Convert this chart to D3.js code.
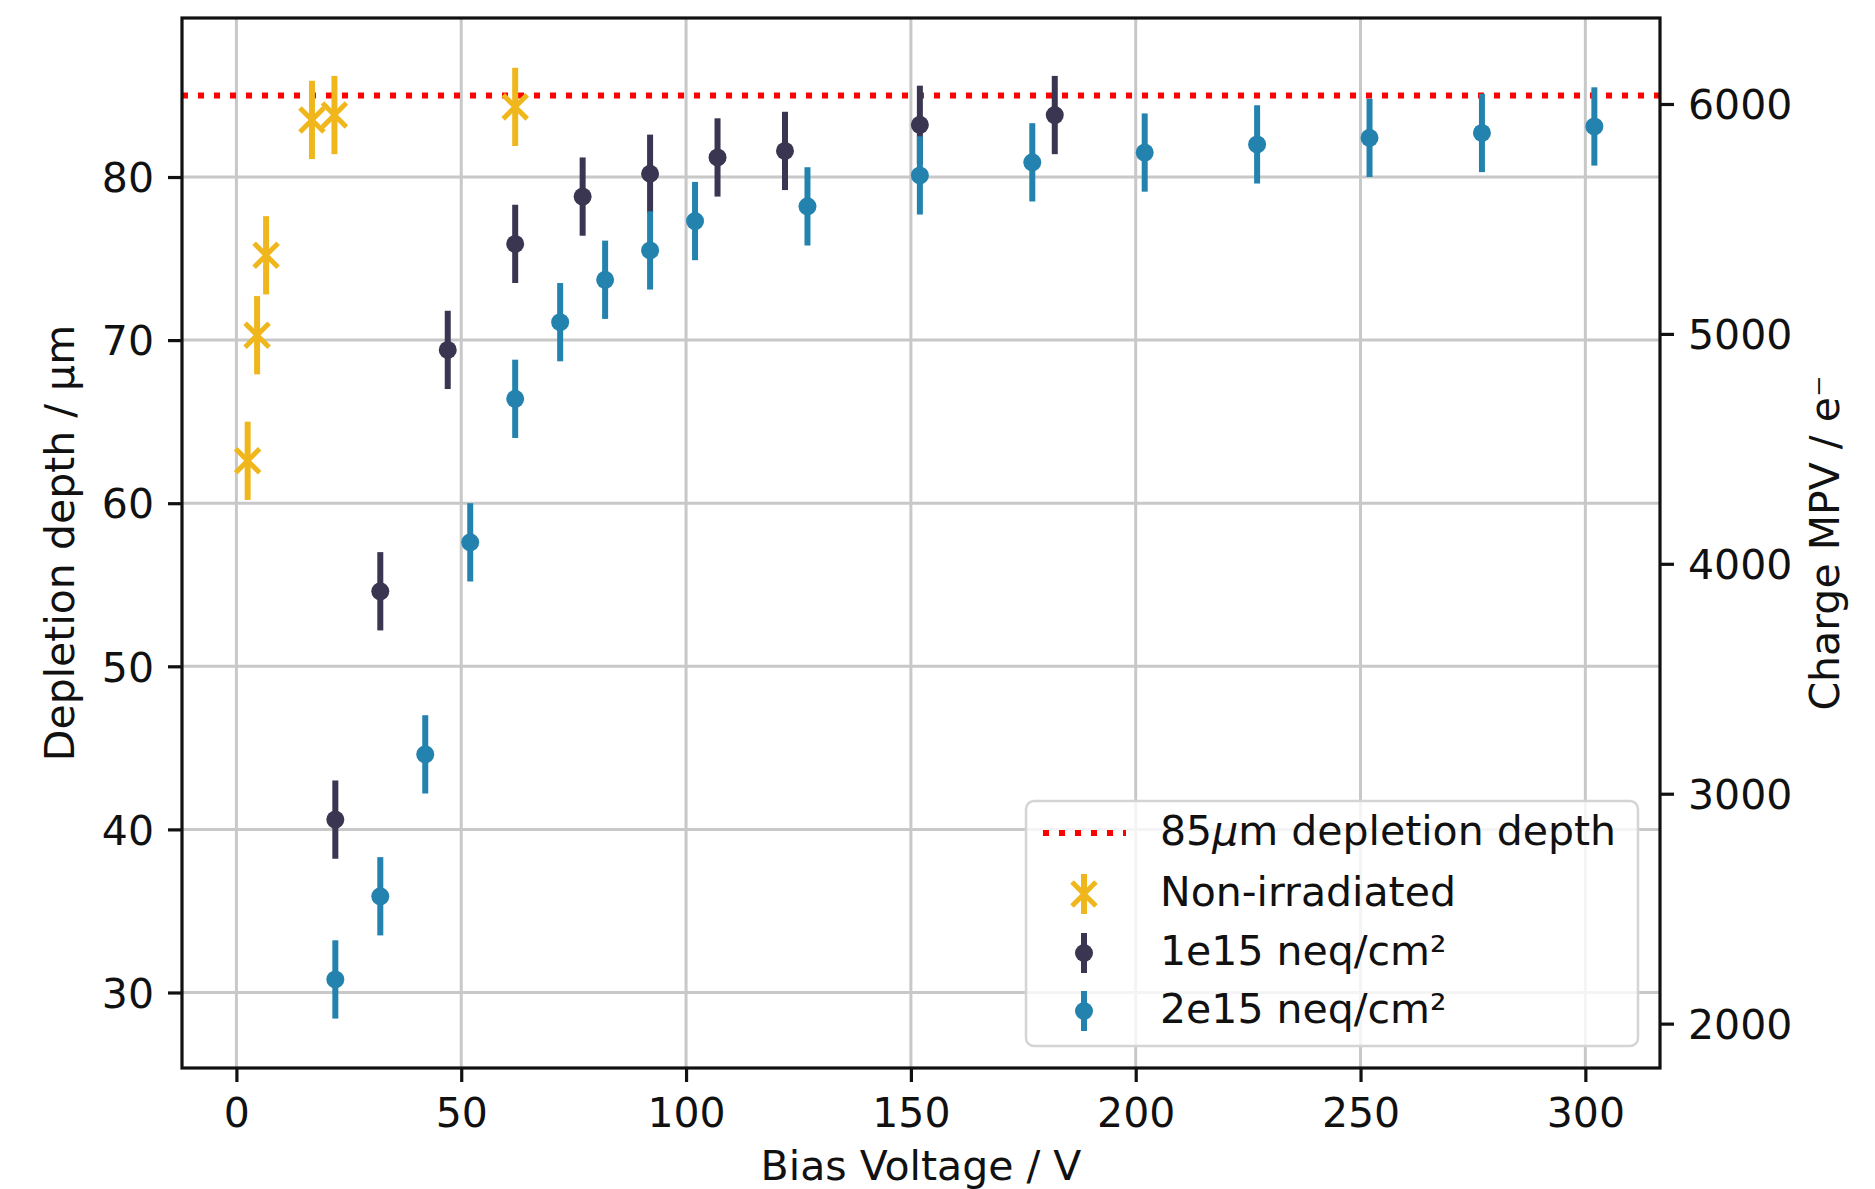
<!DOCTYPE html>
<html><head><meta charset="utf-8">
<script src="https://cdn.jsdelivr.net/npm/d3@7"></script>
<style>
body{margin:0;background:#fff}
svg{display:block}
text{font-family:"DejaVu Sans",sans-serif;fill:#111}
</style>
</head><body>
<svg id="chart" width="1875" height="1189"></svg>
<script>
// ---------- data ----------
const nonIrrVoltage = [2.5, 4.6, 6.6, 16.8, 21.8, 62];
const nonIrrDepth   = [62.6, 70.3, 75.2, 83.5, 83.8, 84.3];
const nonIrrErr     = [2.4, 2.4, 2.4, 2.4, 2.4, 2.4];

const v1e15 = [22, 32, 47, 62, 77, 92, 107, 122, 152, 182];
const d1e15 = [40.6, 54.6, 69.4, 75.9, 78.8, 80.2, 81.2, 81.6, 83.2, 83.8];
const e1e15 = [2.4, 2.4, 2.4, 2.4, 2.4, 2.4, 2.4, 2.4, 2.4, 2.4];

const v2e15 = [22, 32, 42, 52, 62, 72, 82, 92, 102, 127, 152, 177, 202, 227, 252, 277, 302];
const d2e15 = [30.8, 35.9, 44.6, 57.6, 66.4, 71.1, 73.7, 75.5, 77.3, 78.2, 80.1, 80.9, 81.5, 82.0, 82.4, 82.7, 83.1];
const e2e15 = [2.4, 2.4, 2.4, 2.4, 2.4, 2.4, 2.4, 2.4, 2.4, 2.4, 2.4, 2.4, 2.4, 2.4, 2.4, 2.4, 2.4];

const refDepth = 85;

const xTicks  = [0, 50, 100, 150, 200, 250, 300];
const yTicks  = [30, 40, 50, 60, 70, 80];
const yRTicks = [2000, 3000, 4000, 5000, 6000];

const legendLabels = ["85μm depletion depth", "Non-irradiated", "1e15 neq/cm²", "2e15 neq/cm²"];
const xLabel = "Bias Voltage / V";
const yLabel = "Depletion depth / µm";
const yRLabel = "Charge MPV / e⁻";

// ---------- styles ----------
const colYellow = "#efb71c", colDark = "#3a3551", colTeal = "#2383ae";
const FS = 41;

const svg = d3.select("#chart");
const L = 182, R = 1660, T = 18, B = 1068;

const x  = d3.scaleLinear().domain([-12.1, 316.6]).range([L, R]);
const y  = d3.scaleLinear().domain([25.37, 89.75]).range([B, T]);
const yR = d3.scaleLinear().domain([1807, 6374]).range([B, T]);

// grid
const grid = svg.append("g");
grid.selectAll(".gx").data(xTicks).enter().append("line")
  .attr("x1", d => x(d)).attr("x2", d => x(d)).attr("y1", T).attr("y2", B)
  .attr("stroke", "#c8c8c8").attr("stroke-width", 3);
grid.selectAll(".gy").data(yTicks).enter().append("line")
  .attr("x1", L).attr("x2", R).attr("y1", d => y(d)).attr("y2", d => y(d))
  .attr("stroke", "#c8c8c8").attr("stroke-width", 3);

// reference line
svg.append("line")
  .attr("x1", L).attr("x2", R).attr("y1", y(refDepth)).attr("y2", y(refDepth))
  .attr("stroke", "red").attr("stroke-width", 6).attr("stroke-dasharray", "6,10");

// series
function errSeries(vs, ds, es, color, marker) {
  const g = svg.append("g");
  const data = vs.map((v, i) => ({v, d: ds[i], e: es[i]}));
  g.selectAll("line.eb").data(data).enter().append("line")
    .attr("x1", p => x(p.v)).attr("x2", p => x(p.v))
    .attr("y1", p => y(p.d - p.e)).attr("y2", p => y(p.d + p.e))
    .attr("stroke", color).attr("stroke-width", 6);
  if (marker === "x") {
    g.selectAll("path.mk").data(data).enter().append("path")
      .attr("transform", p => `translate(${x(p.v)},${y(p.d)})`)
      .attr("d", "M-12,-12L12,12M-12,12L12,-12")
      .attr("stroke", color).attr("stroke-width", 5).attr("fill", "none");
  } else {
    g.selectAll("circle.mk").data(data).enter().append("circle")
      .attr("cx", p => x(p.v)).attr("cy", p => y(p.d)).attr("r", 9)
      .attr("fill", color);
  }
}
errSeries(nonIrrVoltage, nonIrrDepth, nonIrrErr, colYellow, "x");
errSeries(v1e15, d1e15, e1e15, colDark, "o");
errSeries(v2e15, d2e15, e2e15, colTeal, "o");

// axes
function styleAxis(g) {
  g.select(".domain").remove();
  g.selectAll(".tick line").attr("stroke", "#111").attr("stroke-width", 3.2);
  g.selectAll(".tick text").attr("font-size", FS).attr("font-family", "DejaVu Sans").attr("fill", "#111");
}
const gx = svg.append("g").attr("transform", `translate(0,${B})`)
  .call(d3.axisBottom(x).tickValues(xTicks).tickSize(14).tickPadding(14).tickFormat(d3.format("d")));
styleAxis(gx);
gx.selectAll(".tick text").attr("dy", "0.75em");

const gy = svg.append("g").attr("transform", `translate(${L},0)`)
  .call(d3.axisLeft(y).tickValues(yTicks).tickSize(14).tickPadding(14).tickFormat(d3.format("d")));
styleAxis(gy);
gy.selectAll(".tick text").attr("dy", "0.36em");

const gyR = svg.append("g").attr("transform", `translate(${R},0)`)
  .call(d3.axisRight(yR).tickValues(yRTicks).tickSize(14).tickPadding(14).tickFormat(d3.format("d")));
styleAxis(gyR);
gyR.selectAll(".tick text").attr("dy", "0.36em");

// frame
svg.append("rect").attr("x", L).attr("y", T).attr("width", R - L).attr("height", B - T)
  .attr("fill", "none").attr("stroke", "#111").attr("stroke-width", 3.2);

// axis labels
svg.append("text").attr("x", (L + R) / 2).attr("y", 1180)
  .attr("text-anchor", "middle").attr("font-size", FS).text(xLabel);
svg.append("text").attr("transform", `translate(73.5,${(T + B) / 2}) rotate(-90)`)
  .attr("text-anchor", "middle").attr("font-size", FS).text(yLabel);
svg.append("text").attr("transform", `translate(1839,${(T + B) / 2}) rotate(-90)`)
  .attr("text-anchor", "middle").attr("font-size", FS).text(yRLabel);

// legend
const lg = svg.append("g");
lg.append("rect").attr("x", 1026).attr("y", 801).attr("width", 612).attr("height", 245)
  .attr("rx", 8).attr("fill", "#fff").attr("fill-opacity", 0.8)
  .attr("stroke", "#d4d4d4").attr("stroke-width", 2.5);
const baselines = [845, 906, 965, 1023];
const hx = 1084;
legendLabels.forEach((lab, i) => {
  const t = lg.append("text").attr("x", 1160).attr("y", baselines[i]).attr("font-size", FS);
  if (i === 0) {
    t.append("tspan").text("85");
    t.append("tspan").attr("font-style", "italic").text("μ");
    t.append("tspan").text(lab.slice(3));
  } else {
    t.text(lab);
  }
  const cy = baselines[i] - 12;
  if (i === 0) {
    lg.append("line").attr("x1", 1043).attr("x2", 1126).attr("y1", cy).attr("y2", cy)
      .attr("stroke", "red").attr("stroke-width", 6).attr("stroke-dasharray", "6,10");
  } else {
    const c = [null, colYellow, colDark, colTeal][i];
    lg.append("line").attr("x1", hx).attr("x2", hx).attr("y1", cy - 20).attr("y2", cy + 20)
      .attr("stroke", c).attr("stroke-width", 6);
    if (i === 1) {
      lg.append("path").attr("transform", `translate(${hx},${cy})`)
        .attr("d", "M-12,-12L12,12M-12,12L12,-12")
        .attr("stroke", c).attr("stroke-width", 5).attr("fill", "none");
    } else {
      lg.append("circle").attr("cx", hx).attr("cy", cy).attr("r", 9).attr("fill", c);
    }
  }
});
</script>
</body></html>
